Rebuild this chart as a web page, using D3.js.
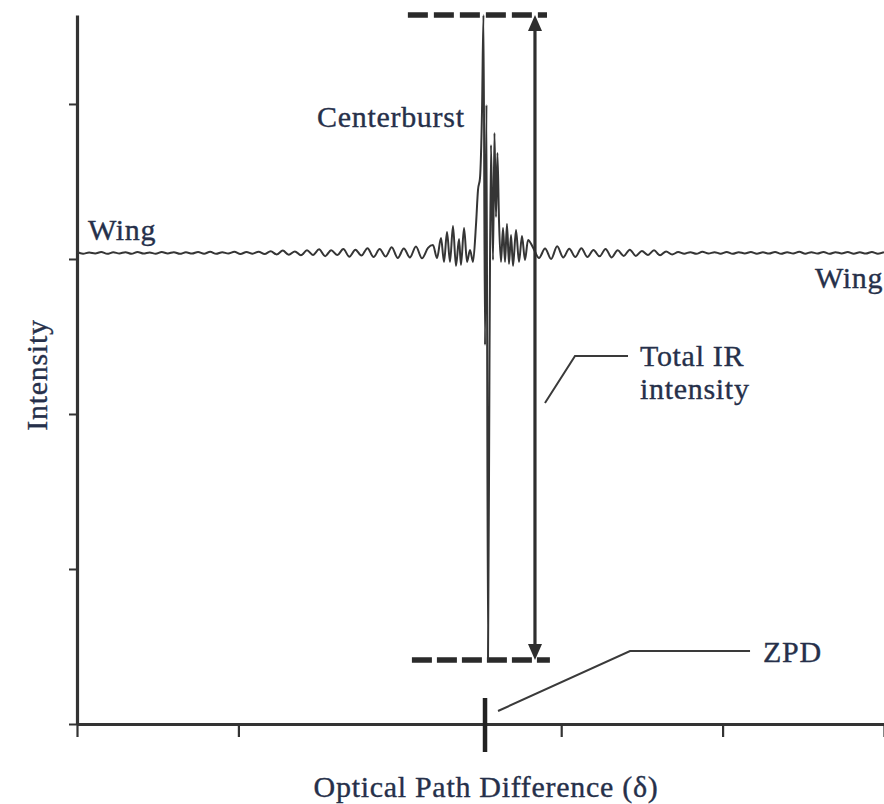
<!DOCTYPE html>
<html><head><meta charset="utf-8">
<script src="https://cdn.jsdelivr.net/npm/d3@7"></script>
<style>
body{margin:0;background:#fff}
svg{display:block}
text{font-family:"Liberation Serif","Times New Roman",serif;fill:#26304a;font-size:30px;letter-spacing:0.7px;stroke:#26304a;stroke-width:0.35px}
</style>
</head><body>
<svg id="c" width="884" height="804"></svg>
<script>
// ---- data (arbitrary units: OPD 0..1000, intensity 0..4.574) ----
const leftWingOpd = [0,7.5,15,22.5,30,37.5,45,52.5,60,67.5,75,82.5,90,97.5,105,112.5,120,127.5,135,142.5,150,157.5,165,172.5,180,187.5,195,202.5,210,217.5,225,232.5,
  240,247.5,255,262.5,270,277.5,285,292.5,300,307.5,315,322.5,330,337.5,345,352.5,360,367.5,375,382.5,390,397.5,405,412.5,420,427.5,435];
const leftWingInt = [3.045,3.034,3.042,3.036,3.045,3.033,3.043,3.036,3.044,3.033,3.045,3.035,3.042,3.034,3.045,3.036,3.044,3.033,3.043,3.035,3.045,3.034,3.046,3.033,3.044,3.035,3.046,3.032,3.045,3.034,3.047,3.032,
  3.050,3.029,3.054,3.027,3.049,3.024,3.056,3.026,3.062,3.018,3.057,3.025,3.064,3.015,3.060,3.022,3.070,3.012,3.064,3.016,3.076,3.006,3.068,3.010,3.080,3.004,3.072];
const burstOpd = [441.1,446.1,451.1,454.8,458.5,462.2,465.9,469.6,473.4,475.8,479.6,483.3,487,490.7,494.4,496.9,499.4,501.9,503.7,505.6,507.4,509.3,511.2,513,515.5,517.3,519.2,521,522.9,525.4,527.9,530.4,532.8,535.3,537.8,540.3,544,547.7,551.4,555.1,558.9];
const burstInt = [3.090,3.006,3.135,2.981,3.174,2.981,3.213,2.955,3.129,2.961,3.200,2.981,3.058,2.981,3.219,3.445,3.523,3.961,4.574,2.445,3.994,0.413,2.413,3.735,2.994,3.813,3.271,3.684,3.252,2.981,3.200,2.981,3.226,2.968,3.155,2.955,3.187,2.981,3.148,2.994,3.123];
const rightWingOpd = [565,572.5,580,587.5,595,602.5,610,617.5,625,632.5,640,647.5,655,662.5,670,677.5,685,692.5,700,707.5,715,722.5,730,737.5,
  745,752.5,760,767.5,775,782.5,790,797.5,805,812.5,820,827.5,835,842.5,850,857.5,865,872.5,880,887.5,895,902.5,910,917.5,925,932.5,940,947.5,955,962.5,970,977.5,985,992.5,1000];
const rightWingInt = [3.075,3.006,3.068,3.000,3.082,3.010,3.066,3.013,3.070,3.013,3.058,3.017,3.065,3.010,3.056,3.020,3.060,3.020,3.052,3.026,3.056,3.024,3.049,3.029,
  3.045,3.034,3.044,3.033,3.046,3.035,3.044,3.034,3.045,3.033,3.044,3.036,3.045,3.034,3.043,3.035,3.045,3.033,3.044,3.035,3.046,3.034,3.044,3.035,3.045,3.033,3.044,3.036,3.045,3.034,3.043,3.035,3.045,3.034,3.044];

const xTicks = [0,200,600,800,1000];
const yTicks = [0,1,2,3,4];
const zpd = 505.6;
const arrowOpd = 567.5;
const topDash = [410, 582.4];
const bottomDash = [415, 586];
const irCallout = [[579.9,2.071],[617.1,2.374],[682.8,2.374]];
const zpdCallout = [[521.7,0.084],[685.3,0.471],[834,0.471]];
const labels = [
  {t:"Centerburst", x:297.4, y:3.852},
  {t:"Wing", x:13.6, y:3.123},
  {t:"Wing", x:914.5, y:2.813},
  {t:"Total IR", x:697.6, y:2.310},
  {t:"intensity", x:697.6, y:2.097},
  {t:"ZPD", x:850.1, y:0.400}
];

function zip(a,b){const n=Math.min(a.length,b.length);const r=[];for(let i=0;i<n;i++)r.push([a[i],b[i]]);return r;}
const signal = zip(leftWingOpd,leftWingInt).concat(zip(burstOpd,burstInt),zip(rightWingOpd,rightWingInt));

const svg = d3.select("#c");
const x = d3.scaleLinear([0,1000],[77,884]);
const y = d3.scaleLinear([0,4.574],[724,15]);
const yMax = d3.max(signal,d=>d[1]), yMin = d3.min(signal,d=>d[1]);
const ink = "#333";

// axes
const ya = svg.append("g").attr("transform",`translate(${x(0)},0)`)
  .call(d3.axisLeft(y).tickValues(yTicks).tickSize(8).tickSizeOuter(0).tickFormat(""));
ya.select(".domain").attr("stroke",ink).attr("stroke-width",3.2);
ya.selectAll(".tick line").attr("stroke",ink).attr("stroke-width",2);

const xa = svg.append("g").attr("transform",`translate(0,${y(0)})`)
  .call(d3.axisBottom(x).tickValues(xTicks).tickSize(13).tickSizeOuter(0).tickFormat(""));
xa.select(".domain").attr("stroke",ink).attr("stroke-width",3.2);
xa.selectAll(".tick line").attr("stroke",ink).attr("stroke-width",2.2);

// ZPD mark
svg.append("line").attr("x1",x(zpd)).attr("x2",x(zpd)).attr("y1",y(0)-26).attr("y2",y(0)+28)
  .attr("stroke","#222").attr("stroke-width",4.5);

// dashed lines
svg.append("line").attr("x1",x(topDash[0])).attr("x2",x(topDash[1])).attr("y1",y(yMax)).attr("y2",y(yMax))
  .attr("stroke","#2a2a2a").attr("stroke-width",5.5).attr("stroke-dasharray","20,6");
svg.append("line").attr("x1",x(bottomDash[0])).attr("x2",x(bottomDash[1])).attr("y1",y(yMin)).attr("y2",y(yMin))
  .attr("stroke","#2a2a2a").attr("stroke-width",5.5).attr("stroke-dasharray","20,5");

// signal
svg.append("path").datum(signal)
  .attr("d",d3.line().curve(d3.curveMonotoneX).x(d=>x(d[0])).y(d=>y(d[1])))
  .attr("fill","none").attr("stroke","#353535").attr("stroke-width",2).attr("stroke-linejoin","round");

// double arrow
const ax = x(arrowOpd), aTop = y(yMax), aBot = y(yMin), ah = 16, aw = 7;
svg.append("line").attr("x1",ax).attr("x2",ax).attr("y1",aTop+ah-2).attr("y2",aBot-ah+2)
  .attr("stroke","#2e2e2e").attr("stroke-width",3.2);
svg.append("path").attr("d",`M${ax},${aTop}L${ax-aw},${aTop+ah}L${ax+aw},${aTop+ah}Z`).attr("fill","#2e2e2e");
svg.append("path").attr("d",`M${ax},${aBot}L${ax-aw},${aBot-ah}L${ax+aw},${aBot-ah}Z`).attr("fill","#2e2e2e");

// callouts
const cl = d3.line().x(d=>x(d[0])).y(d=>y(d[1]));
[irCallout,zpdCallout].forEach(c=>svg.append("path").attr("d",cl(c)).attr("fill","none")
  .attr("stroke","#3a3a3a").attr("stroke-width",2));

// labels
svg.selectAll("text.lab").data(labels).join("text").attr("class","lab")
  .attr("x",d=>x(d.x)).attr("y",d=>y(d.y)).text(d=>d.t);

// axis titles
svg.append("text").attr("text-anchor","middle").attr("transform","translate(47,375) rotate(-90)").text("Intensity");
svg.append("text").attr("text-anchor","middle").attr("x",486).attr("y",797).text("Optical Path Difference (δ)");
</script>
</body></html>
